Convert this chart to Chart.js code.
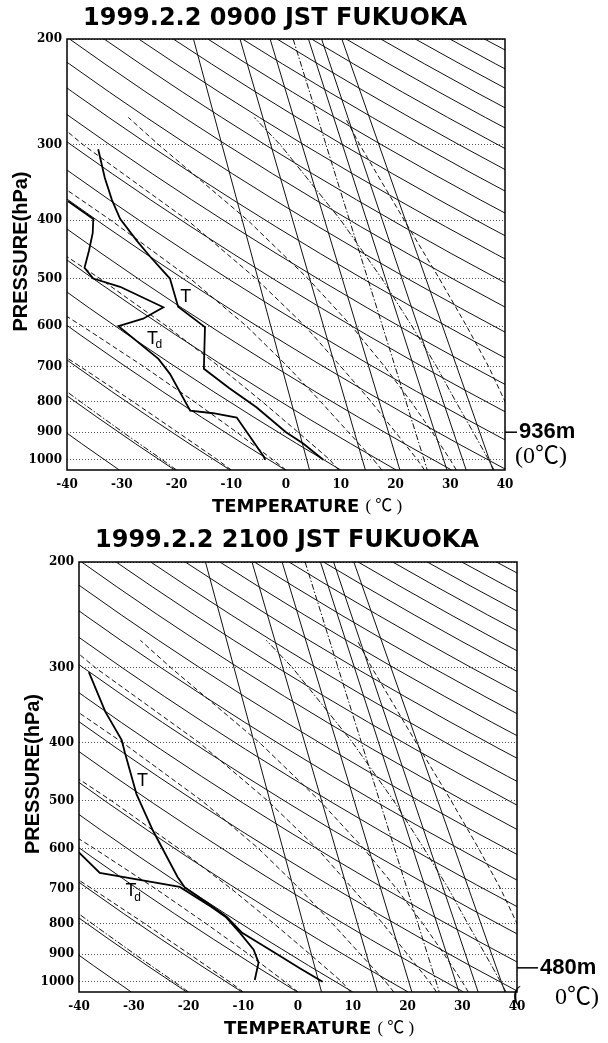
<!DOCTYPE html>
<html>
<head>
<meta charset="utf-8">
<script src="https://cdn.jsdelivr.net/npm/chart.js@4.4.1/dist/chart.umd.min.js"></script>
<style>
  body { margin: 0; background: #fff; width: 608px; height: 1043px; overflow: hidden; }
  canvas { position: absolute; left: 0; }
  #chart0900 { top: 0; }
  #chart2100 { top: 522px; }
</style>
</head>
<body>
<canvas id="chart0900" width="608" height="522"></canvas>
<canvas id="chart2100" width="608" height="521"></canvas>
<script>
// axes
const pressureTicks = [200, 300, 400, 500, 600, 700, 800, 900, 1000];
const tempTicks = [-40, -30, -20, -10, 0, 10, 20, 30, 40];

// dry adiabats (potential temperature, K)
const thetaLines = [240, 250, 260, 270, 280, 290, 300, 310, 320, 330, 340, 350, 360,
  370, 380, 390, 400, 410, 420, 430, 440, 450, 460, 470, 480, 490];
const adiabatLevels = [200, 220, 245, 270, 300, 335, 370, 410, 455, 505, 560, 620, 690, 770, 850, 940, 1040];

// saturation mixing ratio lines (g/kg), temperature at 200 hPa and at 1040 hPa
const mixRatios = [5, 10, 15, 20, 25, 30, 40];
const mixTop = [-16.9, -8.4, -2.9, 1.3, 4.1, 6.5, 10.2];
const mixBottom = [4.3, 14.5, 20.8, 25.8, 29.4, 32.9, 37.8];

// moist adiabats, temperature at each level of moistLevels
const moistLevels = [1040, 1000, 900, 800, 700, 600, 500, 400, 300, 270];
const moistTemps = [
  [-20.0, -22.6, -29.8, -37.6, -46.3, -56.0, null, null, null, null],
  [-10.0, -12.5, -19.8, -28.0, -37.6, -49.0, -62.0, null, null, null],
  [0.0, -2.4, -9.0, -16.8, -26.0, -37.2, -51.0, null, null, null],
  [9.6, 8.0, 2.2, -4.4, -12.2, -21.8, -34.0, -50.0, null, null],
  [17.5, 16.0, 11.4, 6.3, 0.3, -7.2, -17.5, -32.0, -52.0, null],
  [25.3, 24.0, 20.0, 15.5, 10.0, 3.5, -5.5, -18.0, -37.0, -43.0],
  [31.1, 30.0, 26.7, 22.8, 18.0, 12.0, 4.0, -7.0, -23.2, -28.8],
  [38.0, 37.0, 34.2, 31.0, 27.5, 23.0, 17.5, 10.0, -1.0, -5.8],
  [45.0, 44.0, 42.0, 40.0, 37.0, 33.0, 28.0, 21.6, 13.5, 10.8]
];
const moistDashDot = [true, false, false, false, false, false, false, true, false];

// 0900 JST sounding
const amTempP = [305, 340, 370, 398, 432, 460, 500, 557, 602, 706, 760, 818, 900, 941, 1000];
const amTemp = [-34.3, -33.1, -31.8, -30.3, -27.3, -24.8, -21.2, -19.7, -14.8, -15.0, -10.4, -5.4, 0.0, 3.2, 6.8];
const amDewP = [372, 398, 420, 450, 480, 500, 516, 558, 583, 600, 680, 720, 829, 837, 851, 987, 1000];
const amDew = [-39.8, -35.2, -35.3, -36.0, -36.8, -35.2, -30.3, -22.4, -26.1, -30.6, -23.3, -21.2, -17.5, -13.3, -9.0, -4.1, -3.8];

// 2100 JST sounding
const pmTempP = [305, 355, 396, 416, 487, 560, 669, 696, 751, 780, 829, 900, 950, 1000];
const pmTemp = [-38.2, -35.2, -32.2, -31.6, -29.5, -26.5, -22.0, -20.7, -15.5, -13.0, -10.2, -3.8, 0.4, 4.5];
const pmDewP = [603, 659, 695, 751, 780, 829, 884, 929, 965, 993];
const pmDew = [-40.5, -36.2, -21.6, -15.8, -13.2, -10.6, -8.1, -7.2, -7.6, -7.9];

// curve labels [temperature, pressure]
const amLabelT = [-18.3, 536];
const amLabelTd = [-24.4, 630];
const pmLabelT = [-28.4, 464];
const pmLabelTd = [-30.5, 707];

// freezing level
const freezeText = ['936m', '480m'];
const freezeP = [900, 948];

const titles = ['1999.2.2 0900 JST FUKUOKA', '1999.2.2 2100 JST FUKUOKA'];

const KAPPA = 0.2857;

function pairs(ts, ps) {
  const out = [];
  ts.forEach((t, i) => { if (t !== null) out.push({ x: t, y: ps[i] }); });
  return out;
}

function backgroundSets() {
  const sets = [];
  thetaLines.forEach(th => {
    sets.push({
      data: adiabatLevels.map(p => ({ x: th * Math.pow(p / 1000, KAPPA) - 273.15, y: p })),
      borderColor: '#111', borderWidth: 1
    });
  });
  mixRatios.forEach((w, i) => {
    sets.push({
      data: [{ x: mixTop[i], y: 200 }, { x: mixBottom[i], y: 1040 }],
      borderColor: '#111', borderWidth: 1,
      borderDash: w === 20 ? [6, 2, 1.5, 2] : []
    });
  });
  moistTemps.forEach((row, i) => {
    sets.push({
      data: pairs(row, moistLevels),
      borderColor: '#111', borderWidth: 1,
      borderDash: moistDashDot[i] ? [6, 2, 1.5, 2] : [5, 3]
    });
  });
  return sets;
}

const decor = {
  id: 'decor',
  afterDraw(chart, args, o) {
    const { ctx, chartArea: a, scales: { x, y } } = chart;
    ctx.save();
    ctx.fillStyle = '#000';
    ctx.strokeStyle = '#000';

    // frame
    ctx.lineWidth = 1.5;
    ctx.strokeRect(a.left, a.top, a.right - a.left, a.bottom - a.top);

    // title
    ctx.textAlign = 'center';
    ctx.textBaseline = 'middle';
    ctx.font = 'bold 24px "DejaVu Sans"';
    ctx.fillText(o.title, (a.left + a.right) / 2 - 11, 19);

    // y title
    ctx.save();
    ctx.translate(a.left - 45.5, (a.top + a.bottom) / 2 - 3);
    ctx.rotate(-Math.PI / 2);
    ctx.font = 'bold 20px "Liberation Sans"';
    ctx.fillText('PRESSURE(hPa)', 0, 0);
    ctx.restore();

    // x title
    ctx.textAlign = 'left';
    ctx.font = 'bold 18px "DejaVu Sans"';
    const tx = a.left + 145, ty = a.bottom + 37;
    ctx.fillText('TEMPERATURE', tx, ty);
    const tw = ctx.measureText('TEMPERATURE').width;
    ctx.font = '17px "Liberation Serif", "Noto Sans CJK JP"';
    ctx.fillText('( ℃ )', tx + tw + 6, ty);

    // T and Td labels
    ctx.textAlign = 'center';
    ctx.font = '18px "Liberation Sans"';
    ctx.fillText('T', x.getPixelForValue(o.labelT[0]), y.getPixelForValue(o.labelT[1]));
    const dx = x.getPixelForValue(o.labelTd[0]), dy = y.getPixelForValue(o.labelTd[1]);
    ctx.fillText('T', dx, dy);
    ctx.font = '12px "Liberation Sans"';
    ctx.fillText('d', dx + 6.5, dy + 6);

    // freezing level mark
    const fy = y.getPixelForValue(o.freezeP);
    ctx.lineWidth = 1.5;
    ctx.beginPath();
    ctx.moveTo(a.right, fy);
    ctx.lineTo(a.right + o.dash, fy);
    ctx.stroke();
    ctx.textAlign = 'left';
    ctx.font = 'bold 22px "Liberation Sans"';
    ctx.fillText(o.freezeText, a.right + o.dash + 2, fy);
    ctx.font = '24px "Liberation Serif", "Noto Sans CJK JP"';
    ctx.fillText(o.zeroText, a.right + o.zeroDx, fy + o.zeroDy);
    if (o.paren) ctx.fillText('(', a.right - 4, fy + 28);
    ctx.restore();
  }
};

function makeChart(id, n, left, right, top, xHeight, temps, dews, labelT, labelTd, extra) {
  const sets = [
    { data: pairs(temps[1], temps[0]), borderColor: '#000', borderWidth: 1.8 },
    { data: pairs(dews[1], dews[0]), borderColor: '#000', borderWidth: 1.8 }
  ].concat(backgroundSets());

  const tickFont = { family: '"DejaVu Serif"', size: 12, weight: 'bold' };

  return new Chart(document.getElementById(id), {
    type: 'line',
    data: { datasets: sets },
    options: {
      responsive: false,
      animation: false,
      devicePixelRatio: 1,
      layout: { padding: { top: top, right: 608 - right, bottom: 0, left: 0 } },
      elements: { point: { radius: 0 }, line: { tension: 0, fill: false } },
      plugins: {
        legend: { display: false },
        tooltip: { enabled: false },
        decor: Object.assign({
          title: titles[n],
          labelT: labelT,
          labelTd: labelTd,
          freezeText: freezeText[n],
          freezeP: freezeP[n]
        }, extra)
      },
      scales: {
        x: {
          type: 'linear', min: -40, max: 40,
          afterBuildTicks: s => { s.ticks = tempTicks.map(v => ({ value: v })); },
          afterFit: s => { s.height = xHeight; },
          ticks: { padding: 8, color: '#000', font: tickFont, callback: v => String(v) },
          grid: { display: false, drawTicks: false },
          border: { display: false }
        },
        y: {
          type: 'logarithmic', reverse: true, min: 200, max: 1040,
          afterBuildTicks: s => { s.ticks = pressureTicks.map(v => ({ value: v })); },
          afterFit: s => { s.width = left; },
          ticks: { autoSkip: false, padding: 5, color: '#000', font: tickFont, callback: v => String(v) },
          grid: { color: '#555', lineWidth: 1, drawTicks: false },
          border: { display: false, dash: [1, 2] }
        }
      }
    },
    plugins: [decor]
  });
}

makeChart('chart0900', 0, 67, 505, 39, 52, [amTempP, amTemp], [amDewP, amDew], amLabelT, amLabelTd,
  { dash: 12, zeroText: '(0℃)', zeroDx: 10, zeroDy: 25, paren: false });
makeChart('chart2100', 1, 79, 517, 40, 51, [pmTempP, pmTemp], [pmDewP, pmDew], pmLabelT, pmLabelTd,
  { dash: 21, zeroText: '0℃)', zeroDx: 38, zeroDy: 30, paren: true });
</script>
</body>
</html>
